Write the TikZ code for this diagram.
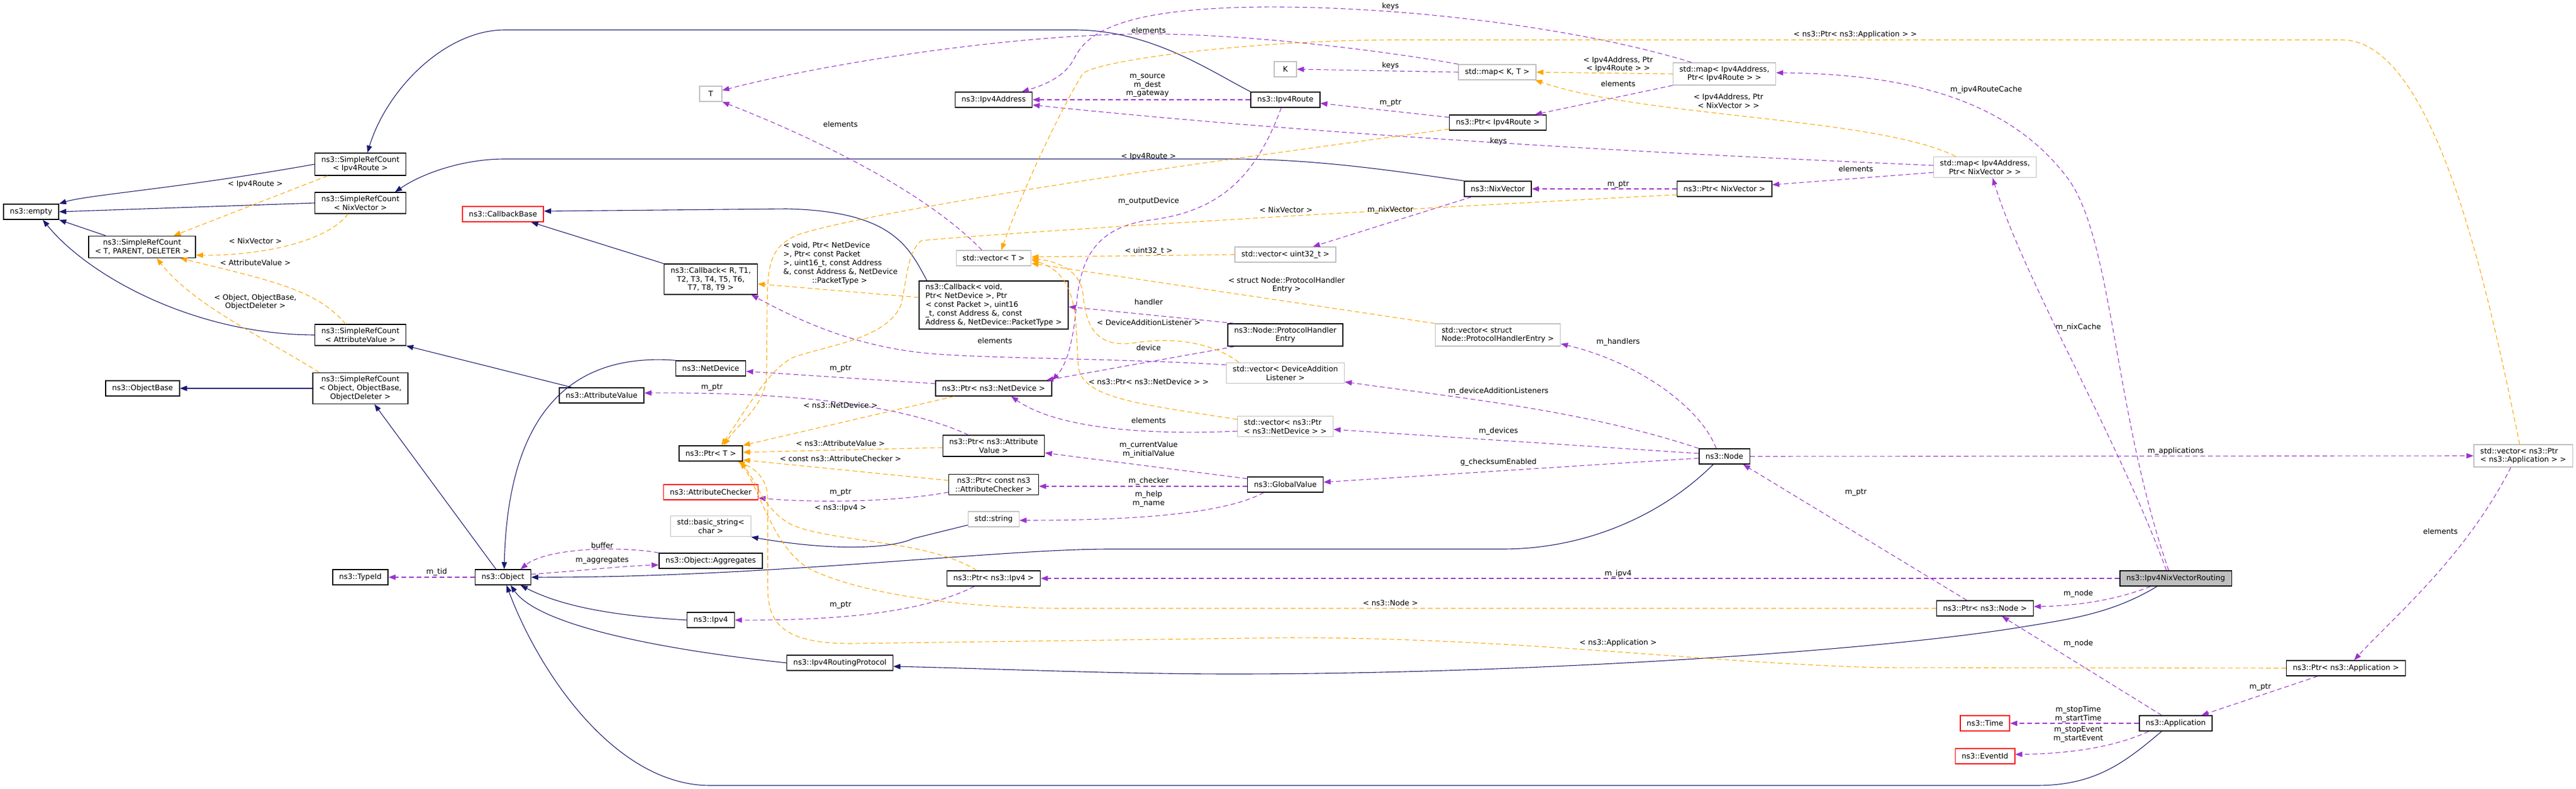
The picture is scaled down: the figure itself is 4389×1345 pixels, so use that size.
\documentclass[tikz,border=0pt]{standalone}
\usepackage{fontspec}
\setmainfont{DejaVu Sans}
\usetikzlibrary{arrows.meta}
\definecolor{inhblue}{HTML}{191970}
\definecolor{usepurple}{HTML}{9A32CD}
\definecolor{tplorange}{HTML}{FFA500}
\definecolor{boxgray}{HTML}{BFBFBF}
\newcommand{\gf}{\fontsize{12.7bp}{14.8bp}\selectfont}

\begin{document}
\begin{tikzpicture}[x=1bp, y=-1bp,
    box/.style={draw=black, line width=1.5bp, fill=white, inner xsep=11bp, inner ysep=5.5bp, minimum height=26bp, align=center, font=\gf},
    graybox/.style={box, draw=boxgray, line width=1.2bp},
    redbox/.style={box, draw=red},
    lbl/.style={inner sep=0pt, align=center, font=\gf},
    inh/.style={draw=inhblue, line width=1.1bp, -{Triangle[length=12bp, width=9bp]}},
    use/.style={draw=usepurple, line width=1.1bp, dash pattern=on 8bp off 5bp, -{Triangle[length=12bp, width=9bp]}},
    tpl/.style={draw=tplorange, line width=1.1bp, dash pattern=on 8bp off 5bp, -{Triangle[length=12bp, width=9bp]}}]
        \useasboundingbox (0,0) rectangle (4389,1345);

        \node[box] (empty) at (53,361) {ns3::empty};
        \node[box] (srcRoute) at (614,280) {ns3::SimpleRefCount\\< Ipv4Route >};
        \node[box] (srcNix) at (614,346) {ns3::SimpleRefCount\\< NixVector >};
        \node[box] (srcTPD) at (242,421) {ns3::SimpleRefCount\\< T, PARENT, DELETER >};
        \node[box] (srcAttr) at (614,571) {ns3::SimpleRefCount\\< AttributeValue >};
        \node[box] (srcObj) at (614,662) {ns3::SimpleRefCount\\< Object, ObjectBase,\\ObjectDeleter >};
        \node[box] (objBase) at (243,662) {ns3::ObjectBase};
        \node[redbox] (cbBase) at (857,365) {ns3::CallbackBase};
        \node[box] (attrValue) at (1025,674) {ns3::AttributeValue};
        \node[box] (typeId) at (614,984) {ns3::TypeId};
        \node[box] (object) at (857,984) {ns3::Object};

        \node[graybox, minimum width=38bp] (tT) at (1211,160) {T};
        \node[box] (ipv4Addr) at (1693,170) {ns3::Ipv4Address};
        \node[box] (ipv4Route) at (2190,170) {ns3::Ipv4Route};
        \node[graybox] (vecT) at (1693,440) {std::vector< T >};
        \node[box] (cbR) at (1211,476) {ns3::Callback< R, T1,\\T2, T3, T4, T5, T6,\\T7, T8, T9 >};
        \node[box, align=left] (cbVoid) at (1693,520) {ns3::Callback< void,\\ Ptr< NetDevice >, Ptr\\< const Packet >, uint16\\\_t, const Address \&, const\\ Address \&, NetDevice::PacketType >};
        \node[box] (netDev) at (1211,628) {ns3::NetDevice};
        \node[box] (ptrNetDev) at (1693,662) {ns3::Ptr< ns3::NetDevice >};
        \node[box] (ptrT) at (1211,773) {ns3::Ptr< T >};
        \node[box] (ptrAttrVal) at (1693,760) {ns3::Ptr< ns3::Attribute\\Value >};
        \node[redbox] (attrChk) at (1211,839) {ns3::AttributeChecker};
        \node[box] (ptrAttrChk) at (1693,826) {ns3::Ptr< const ns3\\::AttributeChecker >};
        \node[graybox] (basicStr) at (1211,897) {std::basic\_string<\\char >};
        \node[graybox] (stdStr) at (1693,885) {std::string};
        \node[box] (aggr) at (1211,956) {ns3::Object::Aggregates};
        \node[box] (ptrIpv4) at (1693,986) {ns3::Ptr< ns3::Ipv4 >};
        \node[box] (ipv4) at (1211,1057) {ns3::Ipv4};
        \node[box] (irp) at (1431,1130) {ns3::Ipv4RoutingProtocol};

        \node[graybox, minimum width=38bp] (kK) at (2190,118) {K};
        \node[graybox] (vecU32) at (2190,434) {std::vector< uint32\_t >};
        \node[box] (phe) at (2190,571) {ns3::Node::ProtocolHandler\\Entry};
        \node[graybox] (vecDAL) at (2190,636) {std::vector< DeviceAddition\\Listener >};
        \node[graybox, align=left] (vecPND) at (2190,727) {std::vector< ns3::Ptr\\< ns3::NetDevice > >};
        \node[box] (globalVal) at (2190,826) {ns3::GlobalValue};
        \node[graybox] (mapKT) at (2551,123) {std::map< K, T >};
        \node[box] (ptrRoute) at (2552,209) {ns3::Ptr< Ipv4Route >};
        \node[box] (nixVec) at (2552,322) {ns3::NixVector};
        \node[graybox, align=left] (vecPHE) at (2552,571) {std::vector< struct\\Node::ProtocolHandlerEntry >};
        \node[graybox] (mapRoute) at (2938,126) {std::map< Ipv4Address,\\Ptr< Ipv4Route > >};
        \node[box] (ptrNix) at (2938,322) {ns3::Ptr< NixVector >};
        \node[box] (node) at (2938,778) {ns3::Node};

        \node[graybox] (mapNix) at (3382,285) {std::map< Ipv4Address,\\Ptr< NixVector > >};
        \node[box, fill=boxgray] (nixRouting) at (3707,986) {ns3::Ipv4NixVectorRouting};
        \node[box] (ptrNode) at (3382,1037) {ns3::Ptr< ns3::Node >};
        \node[box] (app) at (3707,1233) {ns3::Application};
        \node[redbox] (timeT) at (3382,1233) {ns3::Time};
        \node[redbox] (eventId) at (3382,1289) {ns3::EventId};
        \node[box] (ptrApp) at (3997,1139) {ns3::Ptr< ns3::Application >};
        \node[graybox, align=left] (vecApp) at (4299,777) {std::vector< ns3::Ptr\\< ns3::Application > >};

        \draw[inh] (srcRoute.west) .. controls (300,322) and (150,332) .. (empty.north east);
        \draw[inh] (srcNix.west) -- (empty.east);
        \draw[inh] ([xshift=30bp]srcTPD.north west) -- (empty.south east);
        \draw[inh] (srcAttr.west) .. controls (330,570) and (150,470) .. ([xshift=20bp]empty.south);
        \draw[inh] (ipv4Route.north west) .. controls (2060,120) and (1960,51) .. (1830,51) -- (860,51) .. controls (760,51) and (660,150) .. ([xshift=12bp]srcRoute.north);
        \draw[inh] (nixVec.north west) .. controls (2400,295) and (2250,271) .. (2100,271) -- (860,271) .. controls (790,271) and (720,295) .. ([xshift=59bp]srcNix.north);
        \draw[inh] ([xshift=14bp]cbVoid.north west) .. controls (1548,420) and (1520,360) .. (1340,356) -- ([yshift=5bp]cbBase.east);
        \draw[inh] (cbR.north west) -- ([xshift=48bp]cbBase.south);
        \draw[inh] ([xshift=22bp]attrValue.north west) -- (srcAttr.south east);
        \draw[inh] (srcObj.west) -- (objBase.east);
        \draw[inh] ([xshift=-12bp]object.north) -- ([xshift=24bp]srcObj.south);
        \draw[inh] (netDev.north west) .. controls (960,600) and (865,720) .. ([xshift=2bp]object.north);
        \draw[inh] ([xshift=-19bp]node.south) .. controls (2830,880) and (2700,936) .. (2560,936) -- (1890,936) .. controls (1700,936) and (1300,985) .. (object.east);
        \draw[inh] (ipv4.west) .. controls (1050,1050) and (960,1035) .. ([xshift=30bp]object.south);
        \draw[inh] (irp.west) .. controls (1150,1110) and (920,1070) .. ([xshift=13bp]object.south);
        \draw[inh] ([xshift=-24bp]app.south) .. controls (3620,1300) and (3570,1339) .. (3470,1339) -- (1210,1339) .. controls (1050,1339) and (920,1150) .. ([xshift=6bp]object.south);
        \draw[inh] ([xshift=-32bp]nixRouting.south) .. controls (3600,1045) and (3530,1055) .. (3450,1068) .. controls (3200,1110) and (2600,1149) .. (2100,1149) .. controls (1900,1149) and (1700,1140) .. ([yshift=-6bp]irp.east);
        \draw[inh] ([yshift=-10bp]stdStr.west) -- (1556,918) .. controls (1520,935) and (1420,940) .. (basicStr.south east);

        \draw[use] (aggr.north west) .. controls (1050,930) and (930,935) .. ([xshift=30bp]object.north);
        \draw[use] ([yshift=5bp]object.east) .. controls (1000,972) and (1060,965) .. ([yshift=-7bp]aggr.west);
        \draw[use] (object.west) -- (typeId.east);
        \draw[use] ([yshift=8bp]ptrNetDev.west) -- ([yshift=-5bp]netDev.east);
        \draw[use] ([xshift=-43bp]ptrAttrVal.north) .. controls (1560,700) and (1400,668) .. ([yshift=4bp]attrValue.east);
        \draw[use] ([yshift=-13bp]ptrAttrChk.west) .. controls (1530,855) and (1400,858) .. ([yshift=-10bp]attrChk.east);
        \draw[use] ([xshift=-33bp]ptrIpv4.south) .. controls (1580,1040) and (1450,1058) .. (ipv4.east);
        \draw[use] ([xshift=-20bp]vecT.north) .. controls (1580,330) and (1400,240) .. (tT.south east);
        \draw[use] (mapKT.north west) .. controls (2350,85) and (2100,55) .. (1930,58) .. controls (1700,62) and (1400,110) .. ([yshift=6bp]tT.east);
        \draw[use] (mapKT.west) -- (kK.east);
        \draw[use] ([xshift=-56bp]mapRoute.north) .. controls (2700,50) and (2400,10) .. (2150,12) .. controls (1900,14) and (1850,60) .. (1830,100) .. controls (1815,130) and (1780,145) .. ([xshift=48bp]ipv4Addr.north);
        \draw[use] (mapRoute.south west) -- ([xshift=-20bp]ptrRoute.north east);
        \draw[use] ([yshift=9bp]ptrRoute.west) -- ([yshift=-6bp]ipv4Route.east);
        \draw[use] (ipv4Route.west) -- (ipv4Addr.east);
        \draw[use] ([xshift=-7bp]ipv4Route.south) .. controls (2140,300) and (2080,360) .. (1960,375) .. controls (1860,388) and (1840,450) .. (1834,520) .. controls (1828,590) and (1815,625) .. (ptrNetDev.north east);
        \draw[use] ([yshift=3bp]mapNix.west) .. controls (2900,265) and (2300,235) .. ([yshift=-9bp]ipv4Addr.east);
        \draw[use] ([yshift=-9bp]mapNix.west) -- ([yshift=7bp]ptrNix.east);
        \draw[use] (ptrNix.west) -- (nixVec.east);
        \draw[use] ([xshift=13bp]nixVec.south west) -- ([xshift=47bp]vecU32.north);
        \draw[use] ([xshift=12bp]phe.north west) -- ([yshift=-3bp]cbVoid.east);
        \draw[use] ([xshift=12bp]phe.south west) -- ([xshift=-10bp]ptrNetDev.north east);
        \draw[use] ([yshift=14bp]vecDAL.west) .. controls (1900,610) and (1650,612) .. (1560,600) .. controls (1440,585) and (1350,540) .. ([xshift=-11bp]cbR.south east);
        \draw[use] ([yshift=-8bp]vecPND.west) .. controls (1950,742) and (1800,730) .. ([xshift=30bp]ptrNetDev.south);
        \draw[use] ([yshift=10bp]globalVal.west) -- ([yshift=-12bp]ptrAttrVal.east);
        \draw[use] ([yshift=-3bp]globalVal.west) -- ([yshift=-3bp]ptrAttrChk.east);
        \draw[use] ([xshift=-37bp]globalVal.south) .. controls (2080,880) and (1900,887) .. ([yshift=-2bp]stdStr.east);
        \draw[use] ([xshift=-14bp]node.north) .. controls (2900,700) and (2800,620) .. ([yshift=-15bp]vecPHE.east);
        \draw[use] (node.north west) .. controls (2700,700) and (2500,680) .. ([yshift=-15bp]vecDAL.east);
        \draw[use] ([yshift=5bp]node.west) -- ([yshift=-5bp]vecPND.east);
        \draw[use] ([yshift=-3bp]node.west) -- ([yshift=4bp]globalVal.east);
        \draw[use] (node.east) -- (vecApp.west);
        \draw[use] ([xshift=-31bp]ptrNode.north) -- ([xshift=32bp]node.south);
        \draw[use] (nixRouting.west) -- (ptrIpv4.east);
        \draw[use] ([xshift=-43bp]nixRouting.south) .. controls (3600,1025) and (3530,1033) .. ([yshift=3bp]ptrNode.east);
        \draw[use] ([xshift=-24bp]app.north) -- ([xshift=29bp]ptrNode.south);
        \draw[use] (app.west) -- (timeT.east);
        \draw[use] ([xshift=17bp]app.south west) .. controls (3600,1275) and (3520,1285) .. ([yshift=3bp]eventId.east);
        \draw[use] ([xshift=54bp]ptrApp.south west) -- ([xshift=-19bp]app.north east);
        \draw[use] ([xshift=-21bp]vecApp.south) .. controls (4200,950) and (4080,1050) .. ([xshift=14bp]ptrApp.north);
        \draw[use] ([xshift=-12bp]nixRouting.north) .. controls (3600,700) and (3600,400) .. (3520,300) .. controls (3420,170) and (3250,126) .. ([yshift=2bp]mapRoute.east);
        \draw[use] ([xshift=-16bp]nixRouting.north) .. controls (3610,750) and (3450,480) .. ([xshift=13bp]mapNix.south);

        \draw[tpl] ([xshift=-56bp]srcRoute.south) -- ([xshift=-38bp]srcTPD.north east);
        \draw[tpl] ([xshift=-21bp]srcNix.south) .. controls (560,410) and (450,436) .. ([yshift=-14bp]srcTPD.east);
        \draw[tpl] ([xshift=-25bp]srcAttr.north) .. controls (540,495) and (470,480) .. ([xshift=-27bp]srcTPD.south east);
        \draw[tpl] ([xshift=-70bp]srcObj.north) .. controls (440,570) and (330,520) .. ([xshift=25bp]srcTPD.south);
        \draw[tpl] ([yshift=13bp]cbVoid.west) -- ([yshift=-8bp]cbR.east);
        \draw[tpl] (vecU32.west) -- ([yshift=2bp]vecT.east);
        \draw[tpl] (vecPHE.north west) -- ([yshift=-9bp]vecT.east);
        \draw[tpl] ([xshift=22bp]vecDAL.north west) .. controls (2060,580) and (1990,575) .. (1930,585) .. controls (1870,592) and (1850,560) .. (1845,500) .. controls (1840,460) and (1800,445) .. ([yshift=-1bp]vecT.east);
        \draw[tpl] ([yshift=12bp]vecPND.west) .. controls (1950,690) and (1850,680) .. (1838,630) .. controls (1830,560) and (1845,470) .. ([yshift=-3bp]vecT.east);
        \draw[tpl] ([xshift=-6bp]vecApp.north) .. controls (4240,500) and (4150,68) .. (3990,68) -- (2380,68) .. controls (2150,68) and (1880,100) .. (1845,125) .. controls (1800,200) and (1740,330) .. ([xshift=13bp]vecT.north);
        \draw[tpl] (mapRoute.west) -- (mapKT.east);
        \draw[tpl] ([xshift=-50bp]mapNix.north) .. controls (3200,200) and (2800,200) .. ([xshift=-2bp]mapKT.south east);
        \draw[tpl] ([xshift=32bp]ptrNetDev.south west) -- (ptrT.north east);
        \draw[tpl] ([yshift=-3bp]ptrAttrVal.west) -- ([yshift=2bp]ptrT.east);
        \draw[tpl] ([yshift=7bp]ptrAttrChk.west) -- ([yshift=-11bp]ptrT.east);
        \draw[tpl] ([xshift=-29bp]ptrIpv4.north) .. controls (1580,920) and (1420,925) .. (1350,895) .. controls (1300,870) and (1290,820) .. ([xshift=-6bp]ptrT.south east);
        \draw[tpl] ([yshift=-11bp]ptrRoute.west) -- (2150,264) .. controls (1800,312) and (1450,370) .. (1360,400) .. controls (1312,420) and (1308,450) .. (1307,520) -- (1306,640) .. controls (1305,690) and (1260,720) .. ([xshift=22bp]ptrT.north);
        \draw[tpl] ([yshift=-10bp]ptrNix.west) .. controls (2500,350) and (1800,390) .. (1570,410) .. controls (1545,430) and (1545,480) .. (1535,520) .. controls (1510,580) and (1400,590) .. (1350,610) .. controls (1310,630) and (1270,700) .. ([xshift=18bp]ptrT.north);
        \draw[tpl] (ptrNode.west) -- (1800,1037) .. controls (1600,1035) and (1450,1005) .. (1380,970) .. controls (1320,935) and (1300,850) .. ([xshift=-4bp]ptrT.south east);
        \draw[tpl] (ptrApp.west) -- (3200,1138) .. controls (2900,1130) and (2600,1088) .. (2200,1087) -- (1450,1097) .. controls (1330,1097) and (1308,1060) .. (1308,1000) -- (1308,850) .. controls (1308,820) and (1290,800) .. ([xshift=-9bp]ptrT.south east);

        \node[lbl] (lIpv4RouteA) at (435,314) {< Ipv4Route >};
        \node[lbl] (lNixVectorA) at (435,411) {< NixVector >};
        \node[lbl] (lAttrValueA) at (435,448) {< AttributeValue >};
        \node[lbl] (lObjectA) at (435,515) {< Object, ObjectBase,\\ObjectDeleter >};
        \node[lbl, align=left] (lCallback) at (1432,449) {< void, Ptr< NetDevice\\>, Ptr< const Packet\\>, uint16\_t, const Address\\\&, const Address \&, NetDevice\\\hspace*{49bp}::PacketType >};
        \node[lbl] (lElemT) at (1432,212) {elements};
        \node[lbl] (lElemMap) at (1957,52) {elements};
        \node[lbl] (lAddr) at (1955,146) {m\_source\\m\_dest\\m\_gateway};
        \node[lbl] (lIpv4RouteB) at (1957,267) {< Ipv4Route >};
        \node[lbl] (lOutDev) at (1957,343) {m\_outputDevice};
        \node[lbl] (lNixVectorB) at (2191,358) {< NixVector >};
        \node[lbl] (lNixVec) at (2369,358) {m\_nixVector};
        \node[lbl] (lUint) at (1957,428) {< uint32\_t >};
        \node[lbl] (lStruct) at (2192,486) {< struct Node::ProtocolHandler\\Entry >};
        \node[lbl] (lHandler) at (1957,515) {handler};
        \node[lbl] (lDAL) at (1957,550) {< DeviceAdditionListener >};
        \node[lbl] (lElemCb) at (1695,581) {elements};
        \node[lbl] (lDevice) at (1957,593) {device};
        \node[lbl] (lPtrND) at (1957,651) {< ns3::Ptr< ns3::NetDevice > >};
        \node[lbl] (lPtrNetDev) at (1432,629) {m\_ptr};
        \node[lbl] (lPtrAttrVal) at (1213,661) {m\_ptr};
        \node[lbl] (lNetDev) at (1432,691) {< ns3::NetDevice >};
        \node[lbl] (lElemND) at (1957,717) {elements};
        \node[lbl] (lAttrValueB) at (1432,756) {< ns3::AttributeValue >};
        \node[lbl] (lValues) at (1957,767) {m\_currentValue\\m\_initialValue};
        \node[lbl] (lAttrChk) at (1432,782) {< const ns3::AttributeChecker >};
        \node[lbl] (lChecker) at (1957,820) {m\_checker};
        \node[lbl] (lPtrAttrChk) at (1432,840) {m\_ptr};
        \node[lbl] (lHelp) at (1957,851) {m\_help\\m\_name};
        \node[lbl] (lIpv4) at (1432,866) {< ns3::Ipv4 >};
        \node[lbl] (lBuffer) at (1026,930) {buffer};
        \node[lbl] (lAggr) at (1026,956) {m\_aggregates};
        \node[lbl] (lTid) at (744,975) {m\_tid};
        \node[lbl] (lPtrIpv4) at (1432,1032) {m\_ptr};
        \node[lbl] (lKeysK) at (2369,112) {keys};
        \node[lbl] (lKeysRoute) at (2369,11) {keys};
        \node[lbl] (lMapRoute) at (2757,110) {< Ipv4Address, Ptr\\< Ipv4Route > >};
        \node[lbl] (lElemRoute) at (2757,143) {elements};
        \node[lbl] (lPtrRoute) at (2369,176) {m\_ptr};
        \node[lbl] (lMapNix) at (2945,172) {< Ipv4Address, Ptr\\< NixVector > >};
        \node[lbl] (lKeysNix) at (2553,241) {keys};
        \node[lbl] (lElemNix) at (3162,288) {elements};
        \node[lbl] (lPtrNix) at (2757,315) {m\_ptr};
        \node[lbl] (lHandlers) at (2757,583) {m\_handlers};
        \node[lbl] (lListeners) at (2553,667) {m\_deviceAdditionListeners};
        \node[lbl] (lDevices) at (2553,735) {m\_devices};
        \node[lbl] (lChecksum) at (2553,788) {g\_checksumEnabled};
        \node[lbl] (lPtrNode) at (3162,840) {m\_ptr};
        \node[lbl] (lIpv4Mem) at (2757,978) {m\_ipv4};
        \node[lbl] (lNode) at (2369,1028) {< ns3::Node >};
        \node[lbl] (lApp) at (2757,1096) {< ns3::Application >};
        \node[lbl] (lApps) at (3707,769) {m\_applications};
        \node[lbl] (lRouteCache) at (3384,153) {m\_ipv4RouteCache};
        \node[lbl] (lNixCache) at (3541,558) {m\_nixCache};
        \node[lbl] (lPtrApp) at (3161,59) {< ns3::Ptr< ns3::Application > >};
        \node[lbl] (lNodeA) at (3541,1012) {m\_node};
        \node[lbl] (lNodeB) at (3541,1097) {m\_node};
        \node[lbl] (lElemApp) at (4158,906) {elements};
        \node[lbl] (lPtrAppMem) at (3851,1172) {m\_ptr};
        \node[lbl] (lTime) at (3541,1218) {m\_stopTime\\m\_startTime};
        \node[lbl] (lEvent) at (3541,1252) {m\_stopEvent\\m\_startEvent};

    \end{tikzpicture}
\end{document}
